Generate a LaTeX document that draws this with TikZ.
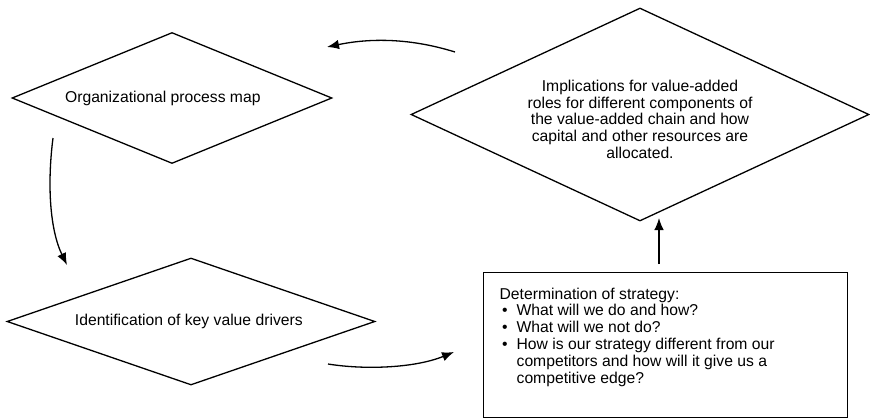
\documentclass[tikz,border=0pt]{standalone}
\usepackage{fontspec}
\setmainfont{Liberation Sans}
\usepackage{enumitem}
\usetikzlibrary{positioning,shapes.geometric,arrows.meta}
\tikzstyle{decision} = [ draw, diamond, inner sep = 0pt, line width = 1.3pt, align = center ]
\tikzstyle{process} = [ draw, rectangle, inner xsep = 16pt, inner ysep = 0pt, line width = 1.3pt, anchor = north west ]
\tikzstyle{edge} = [ -{Latex[length=12pt,width=9.5pt]}, line width = 1.3pt ]

\begin{document}
\begin{tikzpicture}[x=1pt, y=-1pt, font=\fontsize{15.7}{16.9}\selectfont]
	\useasboundingbox (0,0) rectangle (870,418);

	\node[decision, aspect=2.44, minimum width=320pt, minimum height=131pt] (org) at ( 172, 98 ) { Organizational process map\hspace{14pt} };
	\node[decision, aspect=2.9, minimum width=368pt, minimum height=127pt] (drivers) at ( 191, 321.5 ) { Identification of key value drivers };
	\node[decision, aspect=2.15, minimum width=458pt, minimum height=213pt] (impl) at ( 640, 114.5 ) {
		\rule{0pt}{21pt}Implications for value-added\\ roles for different components of\\ the value-added chain and how\\
		capital and other resources are\\ allocated. };
	\node[process] (strategy) at ( 483, 272 ) {
		\begin{minipage}[t][145pt][t]{332pt}
			\vspace{15pt}
			Determination of strategy:
			\begin{itemize}[nosep, leftmargin=17pt, labelsep=9pt, label=\textbullet]
				\item What will we do and how?
				\item What will we not do?
				\item How is our strategy different from our\newline competitors and how will it give us a\newline competitive edge?
			\end{itemize}
		\end{minipage} };

	% loose ends of the connectors
	\coordinate (c1s) at ( 455, 52 );
	\coordinate (c1e) at ( 327, 47 );
	\coordinate (c2s) at ( 53, 138 );
	\coordinate (c2e) at ( 67, 265 );
	\coordinate (c3s) at ( 328, 364 );
	\coordinate (c3e) at ( 454, 352 );
	\coordinate (c4s) at ( 659, 264 );
	\coordinate (c4e) at ( 659, 218 );

	\draw[edge] (c1s) .. controls ( 410, 38 ) and ( 370, 38 ) .. (c1e);
	\draw[edge] (c2s) .. controls ( 47, 185 ) and ( 50, 230 ) .. (c2e);
	\draw[edge] (c3s) .. controls ( 365, 370 ) and ( 415, 368 ) .. (c3e);
	\draw[edge] (c4s) -- (c4e);
\end{tikzpicture}
\end{document}
